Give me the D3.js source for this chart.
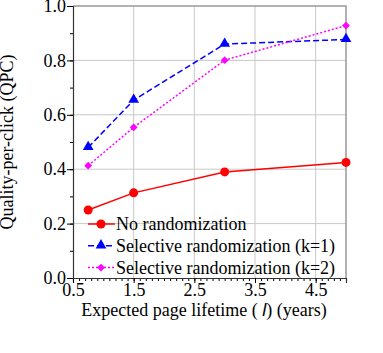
<!DOCTYPE html>
<html>
<head>
<meta charset="utf-8">
<script src="https://cdn.jsdelivr.net/npm/d3@7"></script>
<style>
  body { margin: 0; background: #fff; }
  text { font-family: "Liberation Serif", "Times New Roman", serif; }
</style>
</head>
<body>
<script>
// data
let lifetimes = [0.75, 1.5, 3.0, 5.0];
let noRand = [0.25, 0.313, 0.39, 0.425];
let selK1 = [0.48, 0.654, 0.86, 0.877];
let selK2 = [0.413, 0.554, 0.801, 0.928];
let xTicks = [0.5, 1.5, 2.5, 3.5, 4.5];
let yTicks = [0.0, 0.2, 0.4, 0.6, 0.8, 1.0];
let seriesNames = ["No randomization", "Selective randomization (k=1)", "Selective randomization (k=2)"];

let width = 383, height = 353;
let margin = { left: 73, right: 37, top: 6, bottom: 75 };

let svg = d3.select("body").append("svg")
  .attr("width", width)
  .attr("height", height);

let x = d3.scaleLinear().domain([0.5, 5.0]).range([margin.left, width - margin.right]);
let y = d3.scaleLinear().domain([0, 1]).range([height - margin.bottom, margin.top]);

let series = [
  { name: seriesNames[0], values: noRand, color: "#ff0000", dash: null, marker: "circle" },
  { name: seriesNames[1], values: selK1, color: "#0000ff", dash: "6,3", marker: "triangle" },
  { name: seriesNames[2], values: selK2, color: "#ff00ff", dash: "2,2", marker: "diamond" }
];

// grid
svg.append("g").selectAll("line.vg")
  .data(xTicks.slice(1))
  .enter().append("line")
  .attr("x1", d => x(d)).attr("x2", d => x(d))
  .attr("y1", y(0)).attr("y2", y(1))
  .attr("stroke", "#c8c8c8").attr("stroke-width", 1);

svg.append("g").selectAll("line.hg")
  .data(yTicks.slice(1, -1))
  .enter().append("line")
  .attr("x1", x(0.5)).attr("x2", x(5.0))
  .attr("y1", d => y(d)).attr("y2", d => y(d))
  .attr("stroke", "#c8c8c8").attr("stroke-width", 1);

// top / right frame
svg.append("path")
  .attr("d", `M${x(0.5)},${y(1)}H${x(5.0)}V${y(0)}`)
  .attr("fill", "none").attr("stroke", "#999").attr("stroke-width", 1.5);

// axes
let minorX = d3.range(0.5, 5.001, 0.1);
let minorY = d3.range(0, 1.001, 0.1);

let xAxis = svg.append("g")
  .attr("transform", `translate(0,${y(0)})`)
  .call(d3.axisBottom(x).tickValues(minorX).tickSize(3).tickFormat(""));
xAxis.select(".domain").remove();

svg.append("g")
  .attr("transform", `translate(0,${y(0)})`)
  .call(d3.axisBottom(x).tickValues(xTicks).tickSize(5).tickPadding(0).tickFormat(d3.format(".1f")))
  .call(g => g.select(".domain").attr("stroke", "#333").attr("stroke-width", 1.2))
  .call(g => g.selectAll("text").attr("font-size", 18).attr("fill", "#000")
    .style("font-family", "'Liberation Serif', serif"));

let yAxis = svg.append("g")
  .attr("transform", `translate(${x(0.5)},0)`)
  .call(d3.axisLeft(y).tickValues(minorY).tickSize(3).tickFormat(""));
yAxis.select(".domain").remove();

svg.append("g")
  .attr("transform", `translate(${x(0.5)},0)`)
  .call(d3.axisLeft(y).tickValues(yTicks).tickSize(6).tickPadding(1).tickFormat(d3.format(".1f")))
  .call(g => g.select(".domain").attr("stroke", "#333").attr("stroke-width", 1.2))
  .call(g => g.selectAll("text").attr("font-size", 18).attr("fill", "#000")
    .style("font-family", "'Liberation Serif', serif"));

// labels
svg.append("text")
  .attr("transform", `translate(13,${(y(0) + y(1)) / 2}) rotate(-90)`)
  .attr("text-anchor", "middle")
  .attr("font-size", 18)
  .text("Quality-per-click (QPC)");

let xl = svg.append("text")
  .attr("x", 204).attr("y", 316)
  .attr("text-anchor", "middle")
  .attr("font-size", 18);
xl.append("tspan").text("Expected page lifetime ( ");
xl.append("tspan").attr("font-style", "italic").style("font-family", "'Liberation Sans', sans-serif").text("l");
xl.append("tspan").text(") (years)");

// markers
let triangle = d3.symbol().type(d3.symbolTriangle).size(50);
let diamond = d3.symbol().type(d3.symbolSquare).size(30);

function drawMarker(sel, s) {
  if (s.marker === "circle") {
    sel.append("circle").attr("r", 4.5).attr("fill", s.color);
  } else if (s.marker === "triangle") {
    sel.append("path").attr("d", triangle).attr("fill", s.color).attr("transform", "translate(0,-0.5)");
  } else {
    sel.append("path").attr("d", diamond).attr("fill", s.color).attr("transform", "rotate(45)");
  }
}

let line = d3.line().x((d, i) => x(lifetimes[i])).y(d => y(d));

series.forEach(s => {
  svg.append("path")
    .datum(s.values)
    .attr("d", line)
    .attr("fill", "none")
    .attr("stroke", s.color)
    .attr("stroke-width", 1.5)
    .attr("stroke-dasharray", s.dash);

  s.values.forEach((v, i) => {
    let g = svg.append("g").attr("transform", `translate(${x(lifetimes[i])},${y(v)})`);
    drawMarker(g, s);
  });
});

// legend
let legend = svg.append("g");
series.forEach((s, i) => {
  let ly = 224 + i * 21.8;
  legend.append("line")
    .attr("x1", 88).attr("x2", 115)
    .attr("y1", ly).attr("y2", ly)
    .attr("stroke", s.color).attr("stroke-width", 1.5)
    .attr("stroke-dasharray", s.dash);
  let g = legend.append("g").attr("transform", `translate(101,${ly})`);
  drawMarker(g, s);
  legend.append("text")
    .attr("x", 116).attr("y", ly + 6)
    .attr("font-size", 18)
    .text(s.name);
});
</script>
</body>
</html>
